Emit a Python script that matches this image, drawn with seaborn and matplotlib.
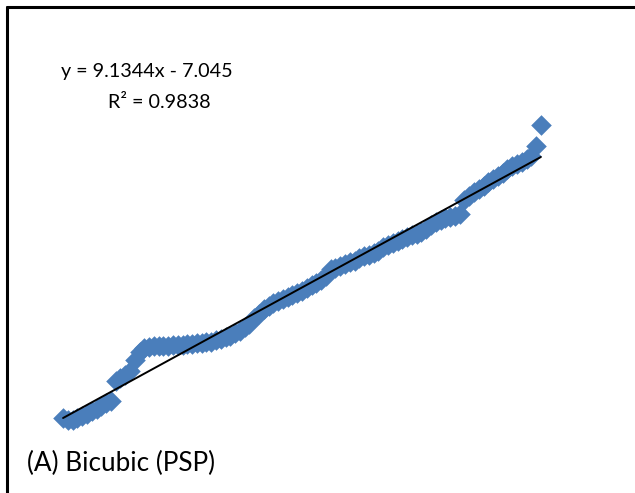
import matplotlib
matplotlib.use("Agg")
import matplotlib.pyplot as plt
from matplotlib.lines import Line2D
import pandas as pd
import seaborn as sns

# Fitted trend line reported on the chart
slope = 9.1344
intercept = -7.045
r_squared = 0.9838

# Observations (x, y)
x_vals = [
    1.00, 1.01, 1.02, 1.03, 1.04, 1.05, 1.06, 1.07, 1.08, 1.09,
    1.10, 1.11, 1.12, 1.13, 1.14, 1.15, 1.16, 1.17, 1.18, 1.19,
    1.20, 1.21, 1.22, 1.23, 1.24, 1.25, 1.26, 1.27, 1.28, 1.29,
    1.30, 1.31, 1.32, 1.33, 1.34, 1.35, 1.36, 1.37, 1.38, 1.39,
    1.40, 1.41, 1.42, 1.43, 1.44, 1.45, 1.46, 1.47, 1.48, 1.49,
    1.50, 1.51, 1.52, 1.53, 1.54, 1.55, 1.56, 1.57, 1.58, 1.59,
    1.60, 1.61, 1.62, 1.63, 1.64, 1.65, 1.66, 1.67, 1.68, 1.69,
    1.70, 1.71, 1.72, 1.73, 1.74, 1.75, 1.76, 1.77, 1.78, 1.79,
    1.80, 1.81, 1.82, 1.83, 1.84, 1.85, 1.86, 1.87, 1.88, 1.89,
    1.90, 1.91, 1.92, 1.93, 1.94, 1.95, 1.96, 1.97, 1.98, 1.99,
    2.00,
]
y_vals = [
    2.09, 2.02, 2.02, 2.09, 2.16, 2.23, 2.33, 2.40, 2.51, 2.61,
    2.68, 3.38, 3.49, 3.59, 3.73, 4.12, 4.40, 4.54, 4.57, 4.61,
    4.61, 4.61, 4.61, 4.64, 4.64, 4.64, 4.68, 4.68, 4.71, 4.71,
    4.75, 4.75, 4.82, 4.85, 4.92, 4.96, 5.06, 5.13, 5.27, 5.38,
    5.59, 5.73, 5.90, 6.01, 6.11, 6.18, 6.25, 6.32, 6.39, 6.46,
    6.53, 6.64, 6.74, 6.81, 6.92, 7.06, 7.30, 7.34, 7.41, 7.48,
    7.55, 7.58, 7.69, 7.76, 7.79, 7.86, 7.93, 8.07, 8.14, 8.21,
    8.28, 8.35, 8.42, 8.49, 8.53, 8.60, 8.70, 8.84, 8.95, 9.02,
    9.09, 9.12, 9.16, 9.23, 9.72, 9.86, 10.00, 10.10, 10.21, 10.35,
    10.45, 10.56, 10.66, 10.80, 10.91, 10.98, 11.05, 11.15, 11.26, 11.61,
    12.34,
]

df = pd.DataFrame({"x": x_vals, "y": y_vals})

sns.set_theme(style="white")
plt.rcParams["font.family"] = ["Lato", "DejaVu Sans"]

fig = plt.figure(figsize=(6.35, 4.93), dpi=100)
ax = fig.add_axes([0, 0, 1, 1])
ax.set_axis_off()

sns.scatterplot(data=df, x="x", y="y", marker="D", s=110, color="#4A7EBB",
                edgecolor="#4A7EBB", linewidth=0, ax=ax, zorder=2)

# Linear trend line from the reported equation
x_line = [min(x_vals), max(x_vals)]
y_line = [slope * v + intercept for v in x_line]
ax.plot(x_line, y_line, color="black", linewidth=1.4, zorder=3)

ax.set_xlim(0.868, 2.197)
ax.set_ylim(-0.535, 16.718)

fig.text(147 / 635, 1 - 72 / 493, f"y = {slope:.4f}x - {abs(intercept):.3f}",
         ha="center", va="center", fontsize=14.2, color="black")
fig.text(159 / 635, 1 - 103 / 493, f"R² = {r_squared:.4f}",
         ha="center", va="center", fontsize=14.2, color="black")
fig.text(27 / 635, 1 - 463 / 493, "(A) Bicubic (PSP)",
         ha="left", va="center", fontsize=18.8, color="black")

# Frame along the top and left edges
fig.add_artist(Line2D([7 / 635, 7 / 635], [0, 1 - 7 / 493],
                      transform=fig.transFigure, color="black", linewidth=2.2))
fig.add_artist(Line2D([7 / 635, 1], [1 - 7 / 493, 1 - 7 / 493],
                      transform=fig.transFigure, color="black", linewidth=2.2))

fig.savefig("out.png", dpi=100, facecolor="white")
